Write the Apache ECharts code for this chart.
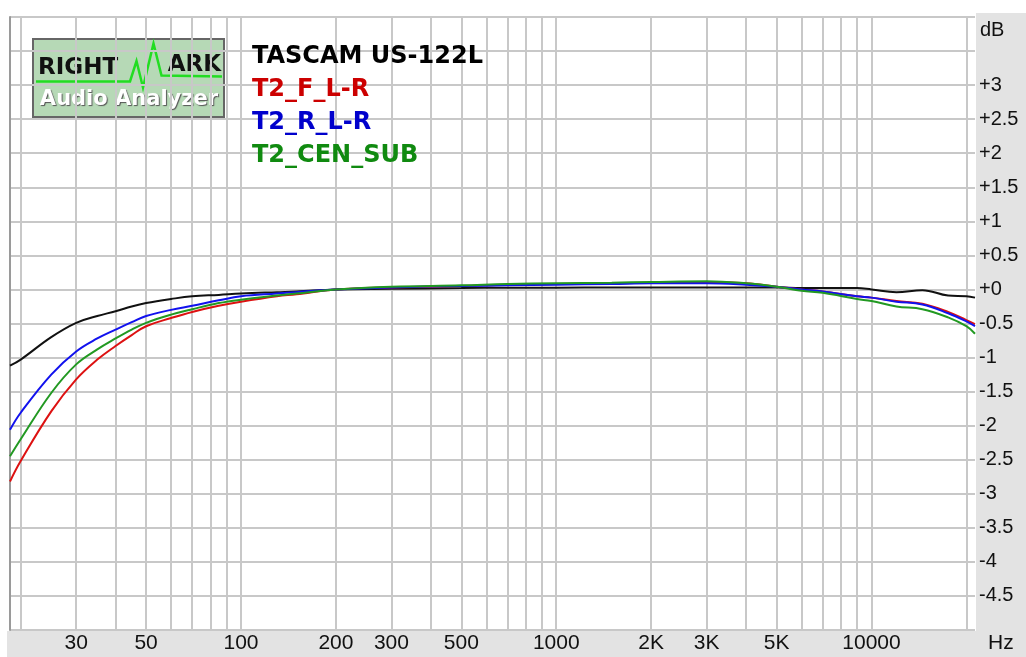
<!DOCTYPE html>
<html>
<head>
<meta charset="utf-8">
<script src="https://cdn.jsdelivr.net/npm/echarts@6/dist/echarts.min.js"></script>
<style>
html, body { margin: 0; padding: 0; background: #fff; }
#chart { width: 1026px; height: 657px; }
</style>
</head>
<body>
<div id="chart"></div>
<script>
// frequency points (Hz)
var freqs = [18.5, 20, 25, 30, 35, 40, 45, 50, 60, 70, 85, 100, 130, 150, 200, 300, 500, 700, 1000, 1500,
    2000, 3000, 4000, 5000, 6000, 7000, 9000, 10000, 12000, 14500, 17500, 20000, 21300];

// levels in dB
var usData = [-1.12, -1.03, -0.70, -0.49, -0.39, -0.32, -0.25, -0.20, -0.14, -0.10, -0.08, -0.06, -0.04, -0.03, 0, 0.01, 0.02, 0.025, 0.025, 0.03,
    0.03, 0.03, 0.03, 0.03, 0.02, 0.02, 0.02, 0.0, -0.04, -0.01, -0.09, -0.10, -0.12];
var frontData = [-2.82, -2.52, -1.79, -1.32, -1.03, -0.83, -0.67, -0.54, -0.42, -0.33, -0.24, -0.18, -0.10, -0.07, 0, 0.03, 0.05, 0.07, 0.08, 0.09,
    0.10, 0.11, 0.09, 0.04, 0.0, -0.03, -0.10, -0.12, -0.17, -0.21, -0.33, -0.45, -0.51];
var rearData = [-2.06, -1.81, -1.25, -0.91, -0.72, -0.59, -0.48, -0.39, -0.30, -0.24, -0.16, -0.10, -0.06, -0.04, 0, 0.03, 0.05, 0.06, 0.07, 0.08,
    0.09, 0.09, 0.07, 0.04, 0.0, -0.03, -0.10, -0.12, -0.18, -0.22, -0.35, -0.47, -0.54];
var cenSubData = [-2.45, -2.20, -1.52, -1.10, -0.88, -0.72, -0.59, -0.49, -0.37, -0.29, -0.20, -0.15, -0.09, -0.06, 0, 0.04, 0.06, 0.08, 0.09, 0.10,
    0.11, 0.12, 0.09, 0.04, -0.02, -0.05, -0.14, -0.17, -0.25, -0.29, -0.41, -0.54, -0.65];

var seriesNames = ['TASCAM US-122L', 'T2_F_L-R', 'T2_R_L-R', 'T2_CEN_SUB'];

// grid lines and tick labels of the frequency axis
var gridFreqs = [20, 30, 40, 50, 60, 70, 80, 90, 100, 200, 300, 400, 500, 600, 700, 800, 900,
    1000, 2000, 3000, 4000, 5000, 6000, 7000, 8000, 9000, 10000, 20000];
var labelFreqs = [30, 50, 100, 200, 300, 500, 1000, 2000, 3000, 5000, 10000];
var labelText = {2000: '2K', 3000: '3K', 5000: '5K'};

function pairs(vals) {
    return freqs.map(function(f, i) { return [f, vals[i]]; });
}

function lineSeries(name, vals, color) {
    return {
        name: name,
        type: 'line',
        data: pairs(vals),
        showSymbol: false,
        smooth: 0.4,
        lineStyle: { width: 2, color: color },
        itemStyle: { color: color },
        emphasis: { disabled: true }
    };
}

var chart = echarts.init(document.getElementById('chart'));

var option = {
    animation: false,
    backgroundColor: '#fff',
    grid: { left: 10, right: 51, top: 17, bottom: 27, outerBoundsMode: 'none', containLabel: false },
    legend: {
        orient: 'vertical',
        left: 247,
        top: 45,
        padding: 0,
        icon: 'none',
        itemWidth: 0,
        itemHeight: 24,
        itemGap: 9,
        textStyle: { fontFamily: 'DejaVu Sans', fontWeight: 'bold', fontSize: 24, lineHeight: 24 },
        data: [
            { name: seriesNames[0], textStyle: { color: '#000' } },
            { name: seriesNames[1], textStyle: { color: '#cc0000' } },
            { name: seriesNames[2], textStyle: { color: '#0000cc' } },
            { name: seriesNames[3], textStyle: { color: '#108a10' } }
        ]
    },
    xAxis: {
        type: 'log',
        logBase: 10,
        min: 18.5,
        max: 21300,
        name: 'Hz',
        nameLocation: 'end',
        nameGap: 13,
        nameMoveOverlap: false,
        nameTextStyle: { fontFamily: 'Liberation Sans', fontSize: 21, color: '#111', align: 'left', verticalAlign: 'top', padding: [3, 0, 0, 0] },
        axisLine: { show: false, onZero: false },
        axisTick: { show: false, customValues: gridFreqs },
        axisLabel: {
            customValues: labelFreqs,
            margin: 3,
            fontFamily: 'Liberation Sans',
            fontSize: 21,
            color: '#111',
            formatter: function(v) { return labelText[v] || String(v); }
        },
        splitLine: { show: true, lineStyle: { color: '#c8c8c8', width: 2 } }
    },
    yAxis: [{
        type: 'value',
        position: 'right',
        min: -5,
        max: 4,
        interval: 0.5,
        name: 'dB',
        nameLocation: 'end',
        nameGap: -13,
        nameMoveOverlap: false,
        nameTextStyle: { fontFamily: 'Liberation Sans', fontSize: 20, color: '#111', align: 'left', verticalAlign: 'middle', padding: [0, 0, 0, 5] },
        axisLine: { show: false },
        axisTick: { show: false },
        axisLabel: {
            margin: 4,
            fontFamily: 'Liberation Sans',
            fontSize: 20,
            color: '#111',
            formatter: function(v) {
                if (v > 3.01 || v < -4.99) return '';
                return v >= 0 ? '+' + v : String(v);
            }
        },
        splitLine: { show: true, lineStyle: { color: '#c8c8c8', width: 2 } }
    }, {
        type: 'value',
        position: 'left',
        min: -5,
        max: 4,
        axisLine: { show: true, lineStyle: { color: '#9a9a9a', width: 2 } },
        axisTick: { show: false },
        axisLabel: { show: false },
        splitLine: { show: false }
    }],
    graphic: [
        { type: 'rect', z: -1, shape: { x: 976, y: 13, width: 50, height: 644 }, style: { fill: '#e3e3e3' } },
        { type: 'rect', z: -1, shape: { x: 7, y: 631, width: 1019, height: 26 }, style: { fill: '#e3e3e3' } },
        {
            type: 'group',
            z: 20,
            children: [
                { type: 'rect', shape: { x: 33, y: 39, width: 191, height: 78 }, style: { fill: '#b6d9b6', stroke: '#666', lineWidth: 2 } },
                { type: 'polyline', shape: { points: [[36, 81.5], [130, 81.5], [136.5, 61], [143, 87.5], [153.5, 43.5], [161.5, 75.5], [222, 76.5]] },
                  style: { stroke: '#22dd22', lineWidth: 2.5, fill: null } },
                { type: 'text', x: 38, y: 68, style: { text: 'RIGHT', font: 'bold 23px "DejaVu Sans"', fill: '#111', textAlign: 'left', textVerticalAlign: 'middle', align: 'left', verticalAlign: 'middle' } },
                { type: 'text', x: 221, y: 65, style: { text: 'ARK', font: 'bold 23px "DejaVu Sans"', fill: '#111', textAlign: 'right', textVerticalAlign: 'middle', align: 'right', verticalAlign: 'middle' } },
                { type: 'text', x: 129, y: 100, style: { text: 'Audio Analyzer', font: 'bold 21px "DejaVu Sans"', fill: '#fff',
                  textShadowColor: '#555', textShadowOffsetX: 1, textShadowOffsetY: 1, textShadowBlur: 1,
                  textAlign: 'center', textVerticalAlign: 'middle', align: 'center', verticalAlign: 'middle' } }
            ]
        }
    ],
    series: [
        lineSeries(seriesNames[0], usData, '#111111'),
        lineSeries(seriesNames[1], frontData, '#dd1111'),
        lineSeries(seriesNames[2], rearData, '#1111ee'),
        lineSeries(seriesNames[3], cenSubData, '#229922')
    ]
};

chart.setOption(option);
</script>
</body>
</html>
